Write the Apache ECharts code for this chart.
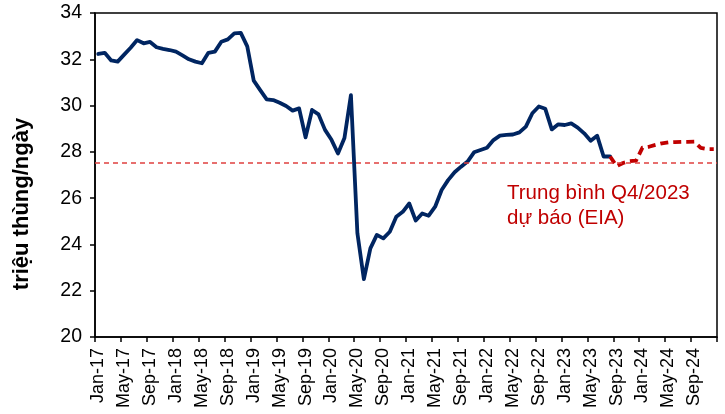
<!DOCTYPE html>
<html>
<head>
<meta charset="utf-8">
<script src="https://cdn.jsdelivr.net/npm/echarts@6/dist/echarts.min.js"></script>
<style>
html,body{margin:0;padding:0;background:#fff;}
#c{width:725px;height:414px;}
</style>
</head>
<body>
<div id="c"></div>
<script>
var monthNames = ['Jan','Feb','Mar','Apr','May','Jun','Jul','Aug','Sep','Oct','Nov','Dec'];
var years = ['17','18','19','20','21','22','23','24'];
var yTicks = [20, 22, 24, 26, 28, 30, 32, 34];

// Actual production (Jan-17 .. Aug-23), million barrels/day
var actualValues = [
  32.23, 32.28, 31.95, 31.90, 32.20, 32.50, 32.83, 32.69, 32.75, 32.52, 32.45, 32.40,
  32.33, 32.17, 32.00, 31.90, 31.83, 32.28, 32.33, 32.76, 32.86, 33.12, 33.14, 32.56,
  31.08, 30.67, 30.27, 30.24, 30.12, 29.98, 29.78, 29.88, 28.63, 29.81, 29.62, 28.95,
  28.52, 27.93, 28.60, 30.45, 24.48, 22.50, 23.83, 24.41, 24.26, 24.55, 25.20, 25.41,
  25.77, 25.03, 25.34, 25.24, 25.63, 26.35, 26.78, 27.12, 27.36, 27.58, 27.98, 28.08,
  28.18, 28.51, 28.70, 28.73, 28.75, 28.84, 29.09, 29.67, 29.96, 29.86, 28.97, 29.19,
  29.16, 29.23, 29.05, 28.80, 28.48, 28.70, 27.80, 27.80
];
// EIA forecast (Aug-23 .. Dec-24)
var forecastStart = 'Aug-23';
var forecastValues = [
  27.80, 27.38, 27.52, 27.60, 27.62, 28.18, 28.22, 28.30, 28.37, 28.41, 28.42, 28.43,
  28.43, 28.44, 28.17, 28.12, 28.12
];
var q4Average = 27.55;
var annotationLines = ['Trung bình Q4/2023', 'dự báo (EIA)'];
var yAxisTitle = 'triệu thùng/ngày';

var categories = [];
years.forEach(function (y) {
  monthNames.forEach(function (m) { categories.push(m + '-' + y); });
});

var fIdx = categories.indexOf(forecastStart);
var forecastSeries = categories.map(function (c, i) {
  return (i >= fIdx && i - fIdx < forecastValues.length) ? forecastValues[i - fIdx] : null;
});

var FONT = '"Liberation Sans", Arial, sans-serif';
var chart = echarts.init(document.getElementById('c'));
chart.setOption({
  animation: false,
  backgroundColor: '#fff',
  grid: {
    left: 95, right: 8, top: 13, bottom: 77,
    show: true, borderColor: '#000', borderWidth: 1.5, backgroundColor: 'transparent'
  },
  xAxis: {
    type: 'category',
    data: categories,
    boundaryGap: true,
    axisLine: { lineStyle: { color: '#000', width: 1.5 } },
    axisTick: { show: true, interval: 3, length: 5, lineStyle: { color: '#000', width: 1.5 } },
    axisLabel: {
      interval: 3, rotate: 90, margin: 11,
      color: '#000', fontFamily: FONT, fontSize: 18
    },
    splitLine: { show: false }
  },
  yAxis: {
    type: 'value',
    min: 20, max: 34, interval: 2,
    axisLine: { show: true, lineStyle: { color: '#000', width: 1.5 } },
    axisTick: { show: true, length: 5, lineStyle: { color: '#000', width: 1.5 } },
    axisLabel: {
      margin: 13, color: '#000', fontFamily: FONT, fontSize: 19.5,
      formatter: function (v) { return yTicks.indexOf(v) >= 0 ? String(v) : ''; }
    },
    splitLine: { show: false }
  },
  series: [
    {
      type: 'line',
      data: actualValues,
      symbol: 'none',
      lineStyle: { color: '#002561', width: 3.8, join: 'round', cap: 'round' },
      z: 3,
      markLine: {
        silent: true,
        symbol: ['none', 'none'],
        label: { show: false },
        lineStyle: { color: '#e0403f', width: 1.5, type: [5, 4] },
        data: [{ yAxis: q4Average }]
      }
    },
    {
      type: 'line',
      data: forecastSeries,
      symbol: 'none',
      connectNulls: false,
      lineStyle: { color: '#c00000', width: 3.8, type: [8, 5], join: 'round' },
      z: 4
    }
  ],
  graphic: [
    {
      type: 'text', x: 22, y: 204, rotation: Math.PI / 2,
      style: {
        text: yAxisTitle, fill: '#000', font: 'bold 22px ' + FONT,
        textAlign: 'center', textVerticalAlign: 'middle'
      }
    },
    {
      type: 'text', x: 507, y: 193,
      style: {
        text: annotationLines[0], fill: '#c00000', font: '20.5px ' + FONT,
        textAlign: 'left', textVerticalAlign: 'middle'
      }
    },
    {
      type: 'text', x: 507, y: 218,
      style: {
        text: annotationLines[1], fill: '#c00000', font: '20.5px ' + FONT,
        textAlign: 'left', textVerticalAlign: 'middle'
      }
    }
  ]
});
</script>
</body>
</html>
